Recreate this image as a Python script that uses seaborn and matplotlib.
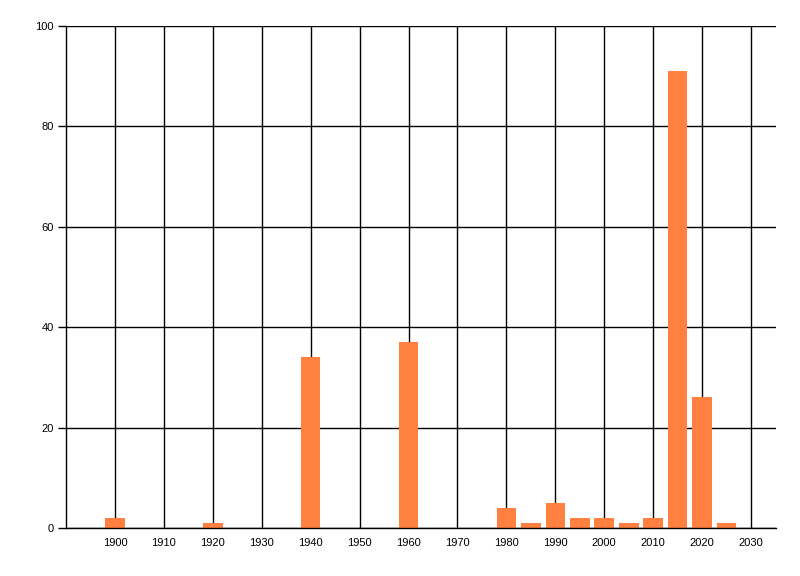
import matplotlib
matplotlib.use("Agg")
import matplotlib.pyplot as plt
import seaborn as sns
import pandas as pd

years = [1900, 1920, 1940, 1960, 1980, 1985, 1990, 1995, 2000, 2005, 2010, 2015, 2020, 2025]
counts = [2, 1, 34, 37, 4, 1, 5, 2, 2, 1, 2, 91, 26, 1]
x_ticks = list(range(1900, 2031, 10))
y_ticks = [0, 20, 40, 60, 80, 100]

sns.set_style("white")
plt.rcParams['font.family'] = ['Liberation Sans', 'DejaVu Sans']

df = pd.DataFrame({"year": years, "count": counts})

fig = plt.figure(figsize=(8, 5.76), dpi=100)
ax = fig.add_axes([66/800, 48/576, 710/800, 502/576])

sns.barplot(data=df, x="year", y="count", native_scale=True, color="#FF8040",
            saturation=1, width=0.8, ax=ax, zorder=3, linewidth=0)

ax.set_xlim(1890, 2035.1)
ax.set_ylim(0, 100)
ax.set_xticks(x_ticks)
ax.set_xticklabels([str(t) for t in x_ticks])
ax.set_yticks(y_ticks)
ax.set_yticklabels([str(t) for t in y_ticks])
ax.grid(True, color="black", linewidth=1)
ax.set_axisbelow(True)
for s in ["top", "right"]:
    ax.spines[s].set_visible(False)
for s in ["left", "bottom"]:
    ax.spines[s].set_color("black")
    ax.spines[s].set_linewidth(1)
    ax.spines[s].set_zorder(4)
ax.tick_params(axis="y", which="both", length=6, width=1, color="black",
               labelsize=8, labelcolor="black", pad=3, direction="out", left=True)
ax.tick_params(axis="x", which="both", length=0, labelsize=8, labelcolor="black",
               pad=7, bottom=True)
ax.set_xlabel("")
ax.set_ylabel("")

fig.savefig("out.png", dpi=100)
